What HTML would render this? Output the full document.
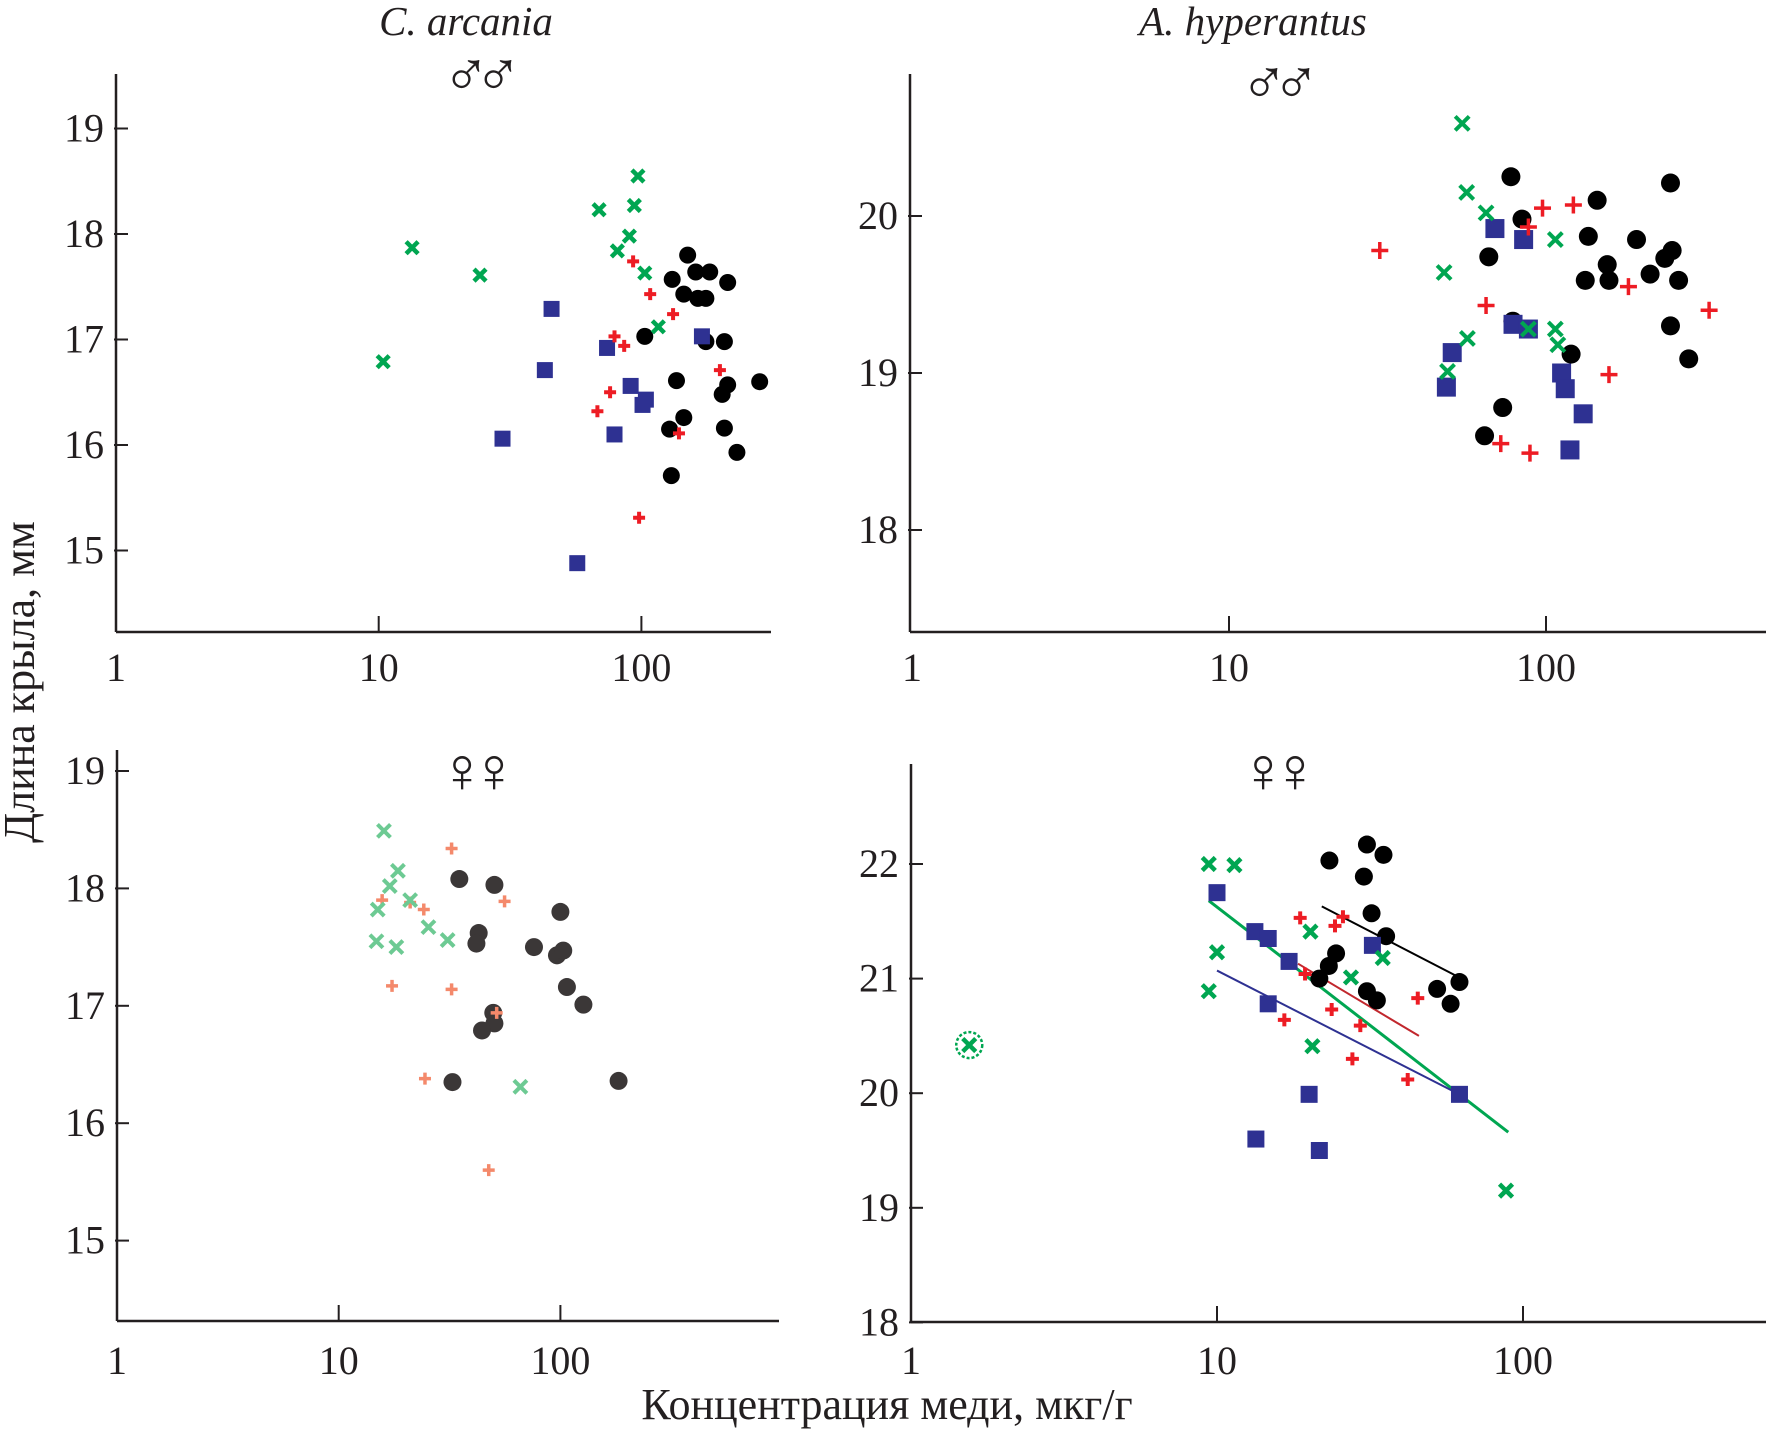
<!DOCTYPE html>
<html><head><meta charset="utf-8"><style>
html,body{margin:0;padding:0;background:#fff;}
svg{display:block;}
text{font-family:"Liberation Serif",serif;fill:#231f20;}
</style></head><body>
<svg id="chart" width="1774" height="1431" viewBox="0 0 1774 1431" xmlns="http://www.w3.org/2000/svg">
<text x="466" y="35" font-size="41" font-style="italic" text-anchor="middle">C. arcania</text>
<text x="1253" y="35" font-size="41" font-style="italic" text-anchor="middle">A. hyperantus</text>
<text x="474" y="96" font-size="64" text-anchor="middle" font-family="DejaVu Sans" letter-spacing="-16">♂♂</text>
<text x="1272" y="104" font-size="64" text-anchor="middle" font-family="DejaVu Sans" letter-spacing="-16">♂♂</text>
<text x="470" y="792" font-size="64" text-anchor="middle" font-family="DejaVu Sans" letter-spacing="-16" fill="#4a4545">♀♀</text>
<text x="1271" y="792" font-size="64" text-anchor="middle" font-family="DejaVu Sans" letter-spacing="-16">♀♀</text>
<text transform="translate(34,682) rotate(-90)" font-size="44" text-anchor="middle">Длина крыла, мм</text>
<text x="887" y="1419" font-size="44" text-anchor="middle">Концентрация меди, мкг/г</text>
<g id="plots"></g>
</svg>
<script>
// Panel 1: C. arcania males
const p1BlackX=[150,131,161,182,213,145,164,176,103,176,207,136,213,203,282,145,128,207,231,130];
const p1BlackY=[17.80,17.57,17.64,17.64,17.54,17.43,17.39,17.39,17.03,16.98,16.98,16.61,16.57,16.48,16.60,16.26,16.15,16.16,15.93,15.71];
const p1RedX=[93,108,132,79,86,76,68,199,139,98];
const p1RedY=[17.74,17.43,17.24,17.03,16.94,16.50,16.32,16.71,16.11,15.31];
const p1GreenX=[10.4,13.4,24.3,69,97,94,90,81,103,116];
const p1GreenY=[16.79,17.87,17.61,18.23,18.55,18.27,17.98,17.84,17.63,17.12];
const p1BlueX=[45.5,42.9,29.6,74,91,104,101,79,170,57];
const p1BlueY=[17.29,16.71,16.06,16.92,16.56,16.43,16.38,16.10,17.03,14.88];
// Panel 2: A. hyperantus males
const p2BlackX=[77.5,247,84,66,145,136,193,156,158,133,213,237,250,262,78.6,247,282,120,73,64];
const p2BlackY=[20.25,20.21,19.98,19.74,20.10,19.87,19.85,19.69,19.59,19.59,19.63,19.73,19.78,19.59,19.33,19.30,19.09,19.12,18.78,18.60];
const p2RedX=[29.9,64.7,88,97.5,122,182,327,158,72,89];
const p2RedY=[19.78,19.43,19.93,20.05,20.07,19.55,19.40,18.99,18.55,18.49];
const p2GreenX=[54.4,56.2,64.7,47.7,107,56.5,88,107,109,48.9];
const p2GreenY=[20.59,20.15,20.02,19.64,19.85,19.22,19.28,19.28,19.18,19.01];
const p2BlueX=[69,85,78.7,88,50.6,48.5,112,115,131,119];
const p2BlueY=[19.92,19.85,19.31,19.28,19.13,18.91,19.00,18.90,18.74,18.51];
// Panel 3: C. arcania females
const p3BlackX=[35,50.4,42.8,41.8,76,100,96.5,103,107,127,49.8,50.4,44.3,32.6,183];
const p3BlackY=[18.08,18.03,17.62,17.53,17.50,17.80,17.43,17.47,17.16,17.01,16.94,16.85,16.79,16.35,16.36];
const p3RedX=[32.3,15.7,24.2,56,17.4,32.3,51.6,24.5,47.5,21];
const p3RedY=[18.34,17.90,17.82,17.89,17.17,17.14,16.94,16.38,15.60,17.88];
const p3GreenX=[16,18.5,17,21,15,14.8,18.2,25.4,31,66];
const p3GreenY=[18.49,18.15,18.02,17.90,17.82,17.55,17.50,17.67,17.56,16.31];
// Panel 4: A. hyperantus females
const p4BlackX=[23.3,30.9,35,30.2,32,35.7,24.5,23.2,21.6,30.9,33.3,52.4,58,62];
const p4BlackY=[22.03,22.17,22.08,21.89,21.57,21.37,21.22,21.11,21.00,20.89,20.81,20.91,20.78,20.97];
const p4RedX=[18.7,24.3,25.8,19.4,23.7,16.6,29.4,27.7,42,45.3];
const p4RedY=[21.53,21.46,21.54,21.04,20.73,20.64,20.59,20.30,20.12,20.83];
const p4GreenX=[9.4,11.4,10,9.4,20.2,27.4,34.8,20.5,88];
const p4GreenY=[22.00,21.99,21.23,20.89,21.41,21.01,21.18,20.41,19.15];
const p4OutlierX=[1.55];
const p4OutlierY=[20.42];
const p4BlueX=[10,13.3,14.7,17.2,32.2,14.7,20,13.4,21.6,62];
const p4BlueY=[21.75,21.41,21.35,21.15,21.29,20.78,19.99,19.60,19.50,19.99];
// Regression lines (endpoints: concentration, wing length)
const p4BlackLineX=[22,63];const p4BlackLineY=[21.63,21.0];
const p4RedLineX=[18.4,45.7];const p4RedLineY=[21.13,20.50];
const p4GreenLineX=[9.4,89.5];const p4GreenLineY=[21.68,19.66];
const p4BlueLineX=[10,62];const p4BlueLineY=[21.07,19.99];
// Tick labels
const xTickVals=[1,10,100];
const p1YTicks=[15,16,17,18,19];
const p2YTicks=[18,19,20];
const p3YTicks=[15,16,17,18,19];
const p4YTicks=[18,19,20,21,22];

const NS='http://www.w3.org/2000/svg';
const root=document.getElementById('plots');
function mk(tag,attrs,parent){const e=document.createElementNS(NS,tag);for(const k in attrs)e.setAttribute(k,attrs[k]);(parent||root).appendChild(e);return e;}

function makePanel(id,ax,x1,dec,xEnd,yBot,yTop,yRefV,yRefP,unit,yTicks,labelY){
  const g=mk('g',{});
  
  
  const sx=v=>x1+Math.log10(v)*dec;
  const sy=v=>yRefP+(yRefV-v)*unit;
  const a1=mk('line',{x1:ax,y1:yTop,x2:ax,y2:yBot,stroke:'#231f20','stroke-width':2.5},g);
  
  
  const a2=mk('line',{x1:ax,y1:yBot,x2:xEnd,y2:yBot,stroke:'#231f20','stroke-width':2.5},g);
  
  
  xTickVals.forEach(v=>{
    const x=sx(v);
    if(v>1){const t=mk('line',{x1:x,y1:yBot,x2:x,y2:yBot-16,stroke:'#231f20','stroke-width':2},g);
      
      }
    const l=mk('text',{x:x,y:labelY,'font-size':40,'text-anchor':'middle'},g);
    l.textContent=v;
    
    
  });
  yTicks.forEach(v=>{
    const y=sy(v);
    const t=mk('line',{x1:ax-2,y1:y,x2:ax+12,y2:y,stroke:'#231f20','stroke-width':2},g);
    
    
    const l=mk('text',{x:ax-12,y:y+13,'font-size':40,'text-anchor':'end'},g);
    l.textContent=v;
    
    
  });
  return {g,sx,sy};
}
function circles(P,xs,ys,col,r){xs.forEach((v,i)=>{const e=mk('circle',{cx:P.sx(v),cy:P.sy(ys[i]),r:r,fill:col},P.g);
  
  });}
function squares(P,xs,ys,col,s){xs.forEach((v,i)=>{const e=mk('rect',{x:P.sx(v)-s/2,y:P.sy(ys[i])-s/2,width:s,height:s,fill:col},P.g);
  
  });}
function pluses(P,xs,ys,col,s,w){xs.forEach((v,i)=>{const x=P.sx(v),y=P.sy(ys[i]);
  const e=mk('path',{d:`M${x-s/2},${y}H${x+s/2}M${x},${y-s/2}V${y+s/2}`,stroke:col,'stroke-width':w,fill:'none'},P.g);
  
  });}
function crosses(P,xs,ys,col,s,w){xs.forEach((v,i)=>{const x=P.sx(v),y=P.sy(ys[i]),h=s/2;
  const e=mk('path',{d:`M${x-h},${y-h}L${x+h},${y+h}M${x+h},${y-h}L${x-h},${y+h}`,stroke:col,'stroke-width':w,fill:'none'},P.g);
  
  });}
function fitLine(P,xs,ys,col,w,name){const e=mk('line',{x1:P.sx(xs[0]),y1:P.sy(ys[0]),x2:P.sx(xs[1]),y2:P.sy(ys[1]),stroke:col,'stroke-width':w},P.g);
  
  }

const BLK='#000',RED='#ed1c24',GRN='#00a651',BLU='#2e3192';

const P1=makePanel('panel-c-arcania-males',116,116,262.7,771,632,74,19,128.5,105.5,p1YTicks,681);
circles(P1,p1BlackX,p1BlackY,BLK,8.5);
squares(P1,p1BlueX,p1BlueY,BLU,16);
pluses(P1,p1RedX,p1RedY,RED,12,4);
crosses(P1,p1GreenX,p1GreenY,GRN,12,4.5);

const P2=makePanel('panel-a-hyperantus-males',910,912,317,1766,632,74,20,216,157,p2YTicks,681);
circles(P2,p2BlackX,p2BlackY,BLK,9.5);
squares(P2,p2BlueX,p2BlueY,BLU,19);
pluses(P2,p2RedX,p2RedY,RED,17,3.5);
crosses(P2,p2GreenX,p2GreenY,GRN,14,4);

const P3=makePanel('panel-c-arcania-females',117,117,221.7,779,1321,750,19,771,117.4,p3YTicks,1374);
circles(P3,p3BlackX,p3BlackY,'#3b3737',9);
pluses(P3,p3RedX,p3RedY,'#f4896b',12,3.5);
crosses(P3,p3GreenX,p3GreenY,'#6dca93',13,4);

const P4=makePanel('panel-a-hyperantus-females',911,911,306,1766,1322,764,22,864,114.6,p4YTicks,1374);
fitLine(P4,p4GreenLineX,p4GreenLineY,GRN,3,'green-regression-line');
fitLine(P4,p4BlueLineX,p4BlueLineY,BLU,2,'blue-regression-line');
fitLine(P4,p4RedLineX,p4RedLineY,'#c1272d',2,'red-regression-line');
fitLine(P4,p4BlackLineX,p4BlackLineY,BLK,2,'black-regression-line');
circles(P4,p4BlackX,p4BlackY,BLK,9);
squares(P4,p4BlueX,p4BlueY,BLU,17);
pluses(P4,p4RedX,p4RedY,RED,13,4);
crosses(P4,p4GreenX,p4GreenY,GRN,13,4.5);
crosses(P4,p4OutlierX,p4OutlierY,GRN,13,4.5);
p4OutlierX.forEach((v,i)=>{const e=mk('circle',{cx:P4.sx(v),cy:P4.sy(p4OutlierY[i]),r:13,fill:'none',stroke:GRN,'stroke-width':2.5,'stroke-dasharray':'3,2'},P4.g);
  
  });
</script>
</body></html>
